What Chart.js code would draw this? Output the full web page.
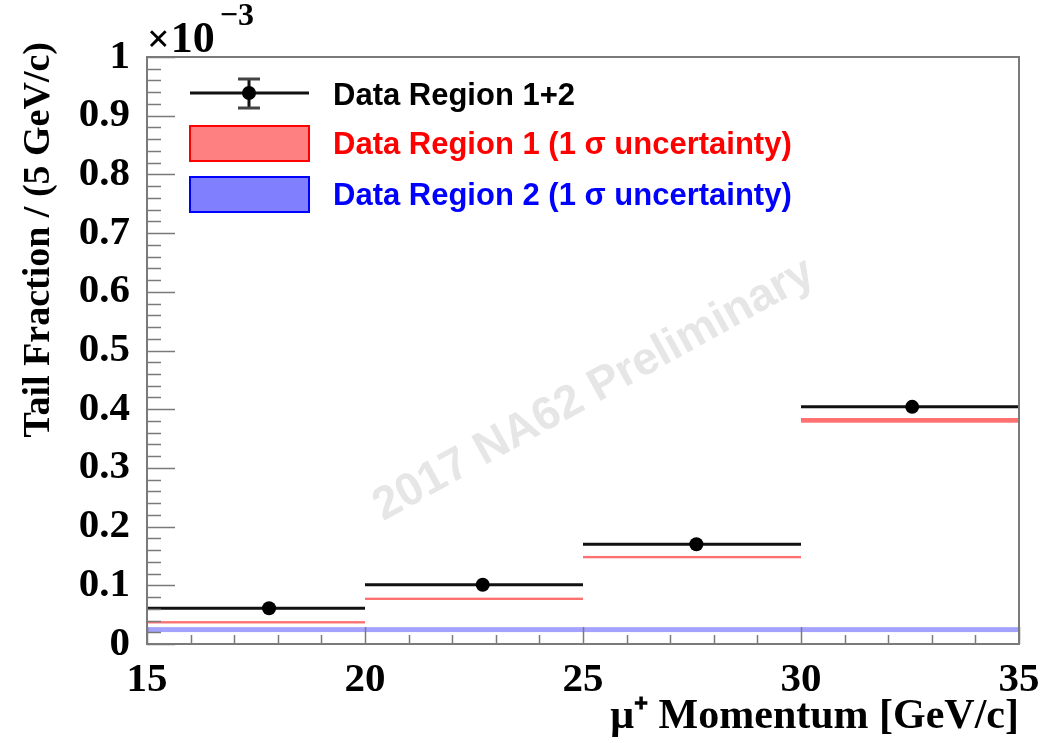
<!DOCTYPE html>
<html>
<head>
<meta charset="utf-8">
<script src="https://cdn.jsdelivr.net/npm/chart.js@4/dist/chart.umd.min.js"></script>
<style>
  html, body { margin: 0; padding: 0; background: #ffffff; }
  canvas { display: block; }
</style>
</head>
<body>
<canvas id="tailChart" width="1045" height="743"></canvas>
<script>
// Momentum bins [GeV/c]
const binLow = [15, 20, 25, 30];
const binHigh = [20, 25, 30, 35];
// Mean muon momentum inside each bin
const meanMomentum = [17.8, 22.7, 27.6, 32.55];
// Tail fraction (x10^-3), regions 1+2 combined
const tailFrac12 = [0.061, 0.101, 0.170, 0.404];
const tailFrac12Err = [0.004, 0.005, 0.006, 0.008];
// Region 1: central value and 1 sigma half-width
const tailFrac1 = [0.037, 0.077, 0.148, 0.381];
const tailFrac1Err = [0.002, 0.002, 0.002, 0.004];
// Region 2: central value and 1 sigma half-width
const tailFrac2 = [0.0245, 0.0245, 0.0245, 0.0245];
const tailFrac2Err = [0.0042, 0.0042, 0.0042, 0.0042];
// Axis ticks
const xTickValues = [15, 20, 25, 30, 35];
const yTickValues = [0, 0.1, 0.2, 0.3, 0.4, 0.5, 0.6, 0.7, 0.8, 0.9, 1];
const yTickLabels = ['0', '0.1', '0.2', '0.3', '0.4', '0.5', '0.6', '0.7', '0.8', '0.9', '1'];
const legendLabels = [
  'Data Region 1+2',
  'Data Region 1 (1 \u03c3 uncertainty)',
  'Data Region 2 (1 \u03c3 uncertainty)'
];
const yTitle = 'Tail Fraction / (5 GeV/c)';

const SERIF = "'Liberation Serif', 'Times New Roman', serif";
const SANS = "'Liberation Sans', Arial, sans-serif";
const FRAME = '#7a7a7a';
const RED_FILL = '#ff7070';
const BLUE_FILL = '#a3a3ff';

// ROOT-style decorations: frame, inward ticks, bands, bin bars, legend, watermark
const rootStyle = {
  id: 'rootStyle',
  beforeDatasetsDraw(chart) {
    const { ctx, chartArea: a, scales: { x, y } } = chart;

    // watermark
    ctx.save();
    ctx.translate(594, 390);
    ctx.rotate(-29 * Math.PI / 180);
    ctx.fillStyle = '#e6e6e6';
    ctx.font = 'bold 46px ' + SANS;
    ctx.textAlign = 'center';
    ctx.textBaseline = 'middle';
    ctx.fillText('2017 NA62 Preliminary', 0, 0);
    ctx.restore();

    ctx.save();
    ctx.beginPath();
    ctx.rect(a.left, a.top, a.right - a.left, a.bottom - a.top);
    ctx.clip();

    // 1 sigma bands
    const band = (vals, errs, color) => {
      ctx.fillStyle = color;
      for (let i = 0; i < vals.length; i++) {
        const x0 = x.getPixelForValue(binLow[i]);
        const x1 = x.getPixelForValue(binHigh[i]);
        const y0 = y.getPixelForValue(vals[i] + errs[i]);
        const y1 = y.getPixelForValue(vals[i] - errs[i]);
        ctx.fillRect(x0, y0, x1 - x0, y1 - y0);
      }
    };
    band(tailFrac2, tailFrac2Err, BLUE_FILL);
    band(tailFrac1, tailFrac1Err, RED_FILL);

    // horizontal bin-width bars and vertical errors of the combined data
    ctx.strokeStyle = '#111';
    ctx.lineWidth = 3;
    for (let i = 0; i < tailFrac12.length; i++) {
      const py = y.getPixelForValue(tailFrac12[i]);
      ctx.beginPath();
      ctx.moveTo(x.getPixelForValue(binLow[i]), py);
      ctx.lineTo(x.getPixelForValue(binHigh[i]), py);
      ctx.stroke();
      const px = x.getPixelForValue(meanMomentum[i]);
      ctx.beginPath();
      ctx.moveTo(px, y.getPixelForValue(tailFrac12[i] - tailFrac12Err[i]));
      ctx.lineTo(px, y.getPixelForValue(tailFrac12[i] + tailFrac12Err[i]));
      ctx.stroke();
    }
    ctx.restore();
  },
  afterDatasetsDraw(chart) {
    const { ctx, chartArea: a, scales: { x, y } } = chart;
    ctx.save();
    ctx.strokeStyle = FRAME;
    ctx.lineWidth = 1.5;
    // y ticks: major every 0.1, minor every 0.02
    for (let k = 0; k <= 50; k++) {
      const py = Math.round(y.getPixelForValue(k * 0.02)) + 0.5;
      const len = (k % 5 === 0) ? 28 : 14;
      ctx.beginPath();
      ctx.moveTo(a.left, py);
      ctx.lineTo(a.left + len, py);
      ctx.stroke();
    }
    // x ticks: major every 5, minor every 1
    for (let v = 15; v <= 35; v++) {
      const px = Math.round(x.getPixelForValue(v)) + 0.5;
      const len = (v % 5 === 0) ? 17 : 9;
      ctx.beginPath();
      ctx.moveTo(px, a.bottom);
      ctx.lineTo(px, a.bottom - len);
      ctx.stroke();
    }
    // frame
    ctx.lineWidth = 2;
    ctx.strokeRect(a.left, a.top, a.right - a.left, a.bottom - a.top);
    ctx.restore();
  },
  afterDraw(chart) {
    const { ctx, chartArea: a } = chart;
    ctx.save();
    ctx.fillStyle = '#000';

    // y axis title, right-aligned near the top of the axis
    ctx.save();
    ctx.translate(39, 42);
    ctx.rotate(-Math.PI / 2);
    ctx.font = 'bold 38px ' + SERIF;
    ctx.textAlign = 'right';
    ctx.textBaseline = 'middle';
    ctx.fillText(yTitle, 0, 0);
    ctx.restore();

    // axis exponent
    ctx.textBaseline = 'alphabetic';
    ctx.textAlign = 'left';
    ctx.font = 'bold 40px ' + SERIF;
    ctx.fillText('\u00d7', a.left, 52);
    const wx = ctx.measureText('\u00d7').width;
    ctx.font = 'bold 44px ' + SERIF;
    ctx.fillText('10', a.left + wx + 1, 52);
    const w10 = ctx.measureText('10').width;
    ctx.font = 'bold 32px ' + SERIF;
    ctx.fillText('\u22123', a.left + wx + w10 + 6, 25);

    // legend
    const sx0 = 190, sx1 = 309, sxc = 249;
    // combined data entry
    ctx.strokeStyle = '#111';
    ctx.lineWidth = 3;
    ctx.beginPath();
    ctx.moveTo(sx0, 93); ctx.lineTo(sx1, 93);
    ctx.moveTo(sxc, 78); ctx.lineTo(sxc, 109);
    ctx.stroke();
    ctx.strokeStyle = '#444';
    ctx.beginPath();
    ctx.moveTo(sxc - 11, 79); ctx.lineTo(sxc + 11, 79);
    ctx.moveTo(sxc - 11, 108); ctx.lineTo(sxc + 11, 108);
    ctx.stroke();
    ctx.fillStyle = '#000';
    ctx.beginPath();
    ctx.arc(sxc, 93, 7, 0, Math.PI * 2);
    ctx.fill();
    // band entries
    ctx.lineWidth = 2;
    ctx.fillStyle = '#ff8080';
    ctx.strokeStyle = '#ff0000';
    ctx.fillRect(sx0, 126, sx1 - sx0, 35);
    ctx.strokeRect(sx0, 126, sx1 - sx0, 35);
    ctx.fillStyle = '#8080ff';
    ctx.strokeStyle = '#0000ff';
    ctx.fillRect(sx0, 177, sx1 - sx0, 35);
    ctx.strokeRect(sx0, 177, sx1 - sx0, 35);
    // legend text
    ctx.font = 'bold 31px ' + SANS;
    ctx.textBaseline = 'middle';
    ctx.fillStyle = '#000';
    ctx.fillText(legendLabels[0], 333, 96);
    ctx.fillStyle = '#ff0000';
    ctx.fillText(legendLabels[1], 333, 145);
    ctx.fillStyle = '#0000ff';
    ctx.fillText(legendLabels[2], 333, 196);
    ctx.restore();
  }
};

const tickFont = { family: SERIF, size: 41, weight: 'bold' };

new Chart(document.getElementById('tailChart'), {
  type: 'scatter',
  data: {
    datasets: [{
      label: legendLabels[0],
      data: meanMomentum.map((m, i) => ({ x: m, y: tailFrac12[i] })),
      pointRadius: 7,
      pointBackgroundColor: '#000',
      pointBorderColor: '#000',
      pointBorderWidth: 0,
      showLine: false
    }]
  },
  options: {
    responsive: false,
    animation: false,
    devicePixelRatio: 1,
    layout: { padding: { top: 57, right: 26, left: 0, bottom: 0 } },
    plugins: { legend: { display: false }, tooltip: { enabled: false } },
    scales: {
      x: {
        type: 'linear',
        min: 15,
        max: 35,
        afterBuildTicks: s => { s.ticks = xTickValues.map(v => ({ value: v })); },
        afterFit: s => { s.height = 99; s.paddingLeft = 0; s.paddingRight = 0; },
        grid: { display: false, drawTicks: false },
        border: { display: false },
        ticks: {
          font: tickFont, color: '#000', padding: 12,
          maxRotation: 0, autoSkip: false,
          callback: v => String(v)
        },
        title: {
          display: true,
          text: '\u03bc\u207a Momentum [GeV/c]',
          align: 'end',
          color: '#000',
          font: { family: SERIF, size: 42, weight: 'bold' },
          padding: { top: 0, bottom: 1 }
        }
      },
      y: {
        type: 'linear',
        min: 0,
        max: 1,
        afterBuildTicks: s => { s.ticks = yTickValues.map(v => ({ value: v })); },
        afterFit: s => { s.width = 147; s.paddingTop = 0; s.paddingBottom = 0; },
        grid: { display: false, drawTicks: false },
        border: { display: false },
        ticks: {
          font: tickFont, color: '#000', padding: 17,
          autoSkip: false,
          callback: (v, i) => yTickLabels[i]
        },
        title: { display: false }
      }
    }
  },
  plugins: [rootStyle]
});
</script>
</body>
</html>
